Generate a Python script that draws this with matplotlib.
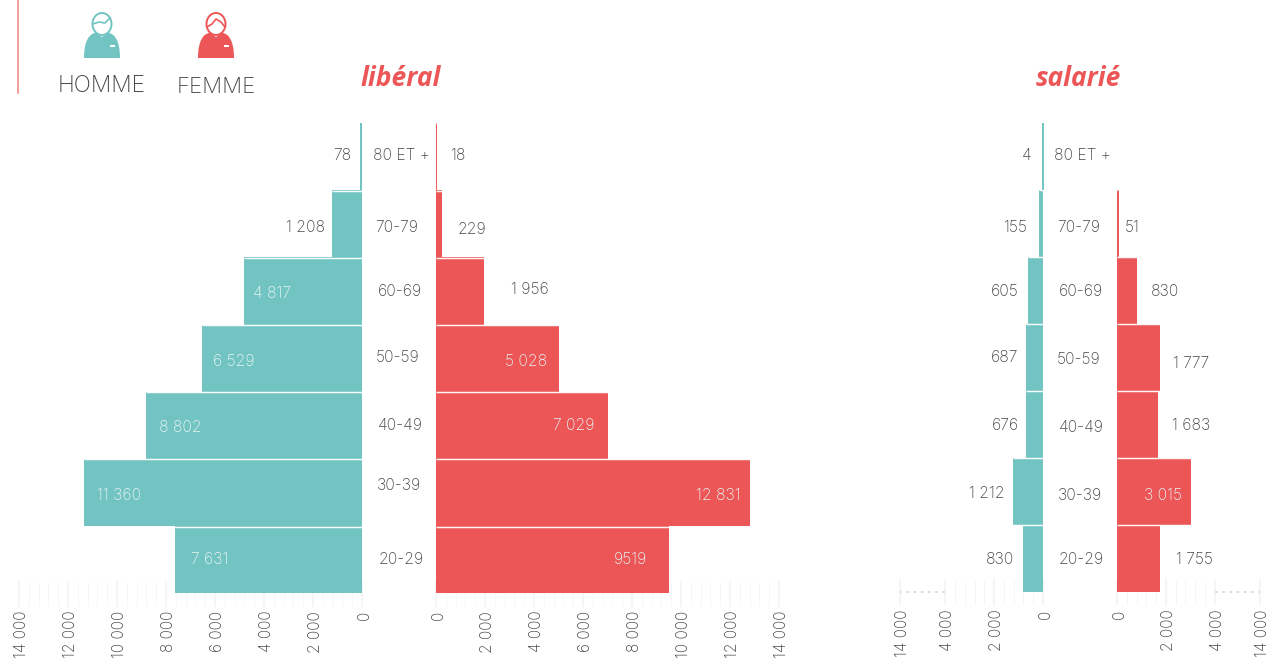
import numpy as np
import matplotlib
matplotlib.use("Agg")
import matplotlib.pyplot as plt
from matplotlib.patches import Ellipse, PathPatch, Rectangle
from matplotlib.path import Path
from matplotlib.ticker import FixedLocator
from matplotlib.transforms import ScaledTranslation

W, H = 1269, 660
teal, red, grey = "#72C4C2", "#ED5656", "#4A4646"
plt.rcParams["font.family"] = ["Inter", "DejaVu Sans"]

ages = ["80 ET +", "70-79", "60-69", "50-59", "40-49", "30-39", "20-29"]
lib_h = [78, 1208, 4817, 6529, 8802, 11360, 7631]
lib_f = [18, 229, 1956, 5028, 7029, 12831, 9519]
sal_h = [4, 155, 605, 687, 676, 1212, 830]
sal_f = [0, 51, 830, 1777, 1683, 3015, 1755]
lib_h_txt = ["78", "1 208", "4 817", "6 529", "8 802", "11 360", "7 631"]
lib_f_txt = ["18", "229", "1 956", "5 028", "7 029", "12 831", "9519"]
sal_h_txt = ["4", "155", "605", "687", "676", "1 212", "830"]
sal_f_txt = ["", "51", "830", "1 777", "1 683", "3 015", "1 755"]
lib_ticks = [0, 2000, 4000, 6000, 8000, 10000, 12000, 14000]
sal_ticks = [0, 2000, 4000, 14000]

# text positions in pixels, x then y
lib_h_x = [342, 305, 272, 234, 180, 119, 210]
lib_h_y = [155, 226, 293, 360, 426, 494, 558]
lib_f_x = [458, 472, 530, 526, 574, 718, 631]
lib_f_y = [155, 228, 289, 361, 425, 494, 558]
lib_a_x = [401, 397, 400, 398, 400, 399, 401]
lib_a_y = [155, 226, 290, 357, 425, 485, 558]
sal_h_x = [1027, 1015, 1005, 1005, 1005, 987, 1000]
sal_h_y = [155, 226, 290, 357, 425, 493, 558]
sal_f_x = [0, 1132, 1165, 1191, 1191, 1163, 1194]
sal_f_y = [0, 227, 290, 362, 425, 494, 558]
sal_a_x = [1082, 1079, 1081, 1079, 1081, 1080, 1081]
sal_a_y = [155, 227, 291, 358, 426, 494, 559]


def fmt(n):
    return f"{n:,}".replace(",", " ")


def squeeze(v):
    return np.interp(v, [0, 4000, 14000], [0, 4000, 5850])


def unsqueeze(v):
    return np.interp(v, [0, 4000, 5850], [0, 4000, 14000])


def side(x0, x1, bottom, vals, color, left, broken=False, ghost=None):
    ax = fig.add_axes([x0 / W, 1 - bottom / H, (x1 - x0) / W, (bottom - 123) / H])
    ax.patch.set_alpha(0)
    if broken:
        ax.set_xscale("function", functions=(squeeze, unsqueeze))
    ax.set_xlim((14000, 0) if left else (0, 14000))
    ax.set_ylim(6.5, -0.5)
    y = np.arange(len(vals))
    # the thinnest bars keep a visible width, hence the edge
    widths = [1.4 if 0 < v < 10 else 0.7 if 0 < v < 60 else 0 for v in vals]
    ax.barh(y, vals, height=1, color=color, edgecolor=color, linewidth=widths, zorder=3,
            clip_on=False)
    row = (bottom - 123) / 7
    for i in range(6):
        stop = ghost if (ghost and i == 5) else max(vals[i], vals[i + 1])
        ax.hlines(i + 0.5 + 0.35 / row, 0, stop, color="white", lw=1.05, alpha=0.95, zorder=4)
    ticks = sal_ticks if broken else lib_ticks
    minor = np.arange(0, 4000 if broken else 14000, 400)
    ax.xaxis.set_major_locator(FixedLocator(ticks))
    ax.xaxis.set_minor_locator(FixedLocator(minor))
    ax.set_xticklabels([fmt(t) for t in ticks], rotation=90, va="top", ha="center",
                       fontsize=11.2, color=grey, fontweight="light")
    ax.tick_params(axis="x", which="major", direction="inout", length=19, width=1.5,
                   color="#F5F5F5", pad=3)
    ax.tick_params(axis="x", which="minor", direction="inout", length=17.5, width=0.7,
                   color="#F6F6F6")
    # rotated labels sit a little left of their tick otherwise, must come after tick_params
    for lab in ax.get_xticklabels():
        lab.set_transform(lab.get_transform() + ScaledTranslation(2.5 / 100, 0, fig.dpi_scale_trans))
    ax.set_yticks([])
    ax.set_axisbelow(True)
    for s in ax.spines.values():
        s.set_visible(False)
    if broken:
        ax.hlines(6.5, 4000, 14000, color="#D9DADC", lw=1.3, ls=(0, (1.5, 2.5)), zorder=2,
                  clip_on=False)
    return ax


def person(cx, color, hair):
    body = Path([(cx - 18, 58), (cx - 18, 40), (cx - 12, 33), (cx - 6, 33), (cx, 37),
                 (cx + 6, 33), (cx + 12, 33), (cx + 18, 40), (cx + 18, 58), (cx - 18, 58)],
                [Path.MOVETO, Path.CURVE4, Path.CURVE4, Path.CURVE4, Path.LINETO,
                 Path.LINETO, Path.CURVE4, Path.CURVE4, Path.CURVE4, Path.CLOSEPOLY])
    over.add_patch(PathPatch(body, fc=color, ec="none"))
    over.add_patch(Ellipse((cx, 24), 19, 22, fc="white", ec=color, lw=1.4))
    over.plot([cx + p[0] for p in hair], [p[1] for p in hair], color=color, lw=1.2)
    over.add_patch(Rectangle((cx + 8, 44.5), 5, 2, fc="white", ec="none"))


fig = plt.figure(figsize=(W / 100, H / 100), dpi=100)

side(19, 362, 593.5, lib_h, teal, True, ghost=8700)
side(436, 779, 593.5, lib_f, red, False)
side(900, 1043, 592, sal_h, teal, True, broken=True)
side(1117, 1260, 592, sal_f, red, False, broken=True)

over = fig.add_axes([0, 0, 1, 1], zorder=10)
over.set_xlim(0, W)
over.set_ylim(H, 0)
over.axis("off")
over.patch.set_alpha(0)

over.plot([18, 18], [0, 93], color="#F28B8B", lw=1.2)
person(102, teal, [(-9, 24), (-3, 22), (3, 23), (8, 18)])
person(216, red, [(-9, 27), (-4, 24), (0, 19), (5, 22), (9, 27)])
over.text(102, 86, "HOMME", ha="center", va="center", fontsize=16.4, color=grey, fontweight="light")
over.text(216, 87, "FEMME", ha="center", va="center", fontsize=16, color=grey, fontweight="light")
over.text(401, 79, "libéral", ha="center", va="center", fontsize=19, color=red,
          family="Open Sans", fontweight="bold", fontstyle="italic")
over.text(1078, 79, "salarié", ha="center", va="center", fontsize=19, color=red,
          family="Open Sans", fontweight="bold", fontstyle="italic")


def labels(texts, xs, ys, inside=()):
    for i, t in enumerate(texts):
        if t:
            over.text(xs[i], ys[i] + 1, t, ha="center", va="center", fontsize=11.3,
                      color="#E6F4F3" if i in inside else grey, fontweight="light")


labels(lib_h_txt, lib_h_x, lib_h_y, inside=(2, 3, 4, 5, 6))
labels(lib_f_txt, lib_f_x, lib_f_y, inside=(3, 4, 5, 6))
labels(sal_h_txt, sal_h_x, sal_h_y)
labels(sal_f_txt, sal_f_x, sal_f_y, inside=(5,))
labels(ages, lib_a_x, lib_a_y)
labels(ages, sal_a_x, sal_a_y)

fig.savefig("out.png", dpi=100)
